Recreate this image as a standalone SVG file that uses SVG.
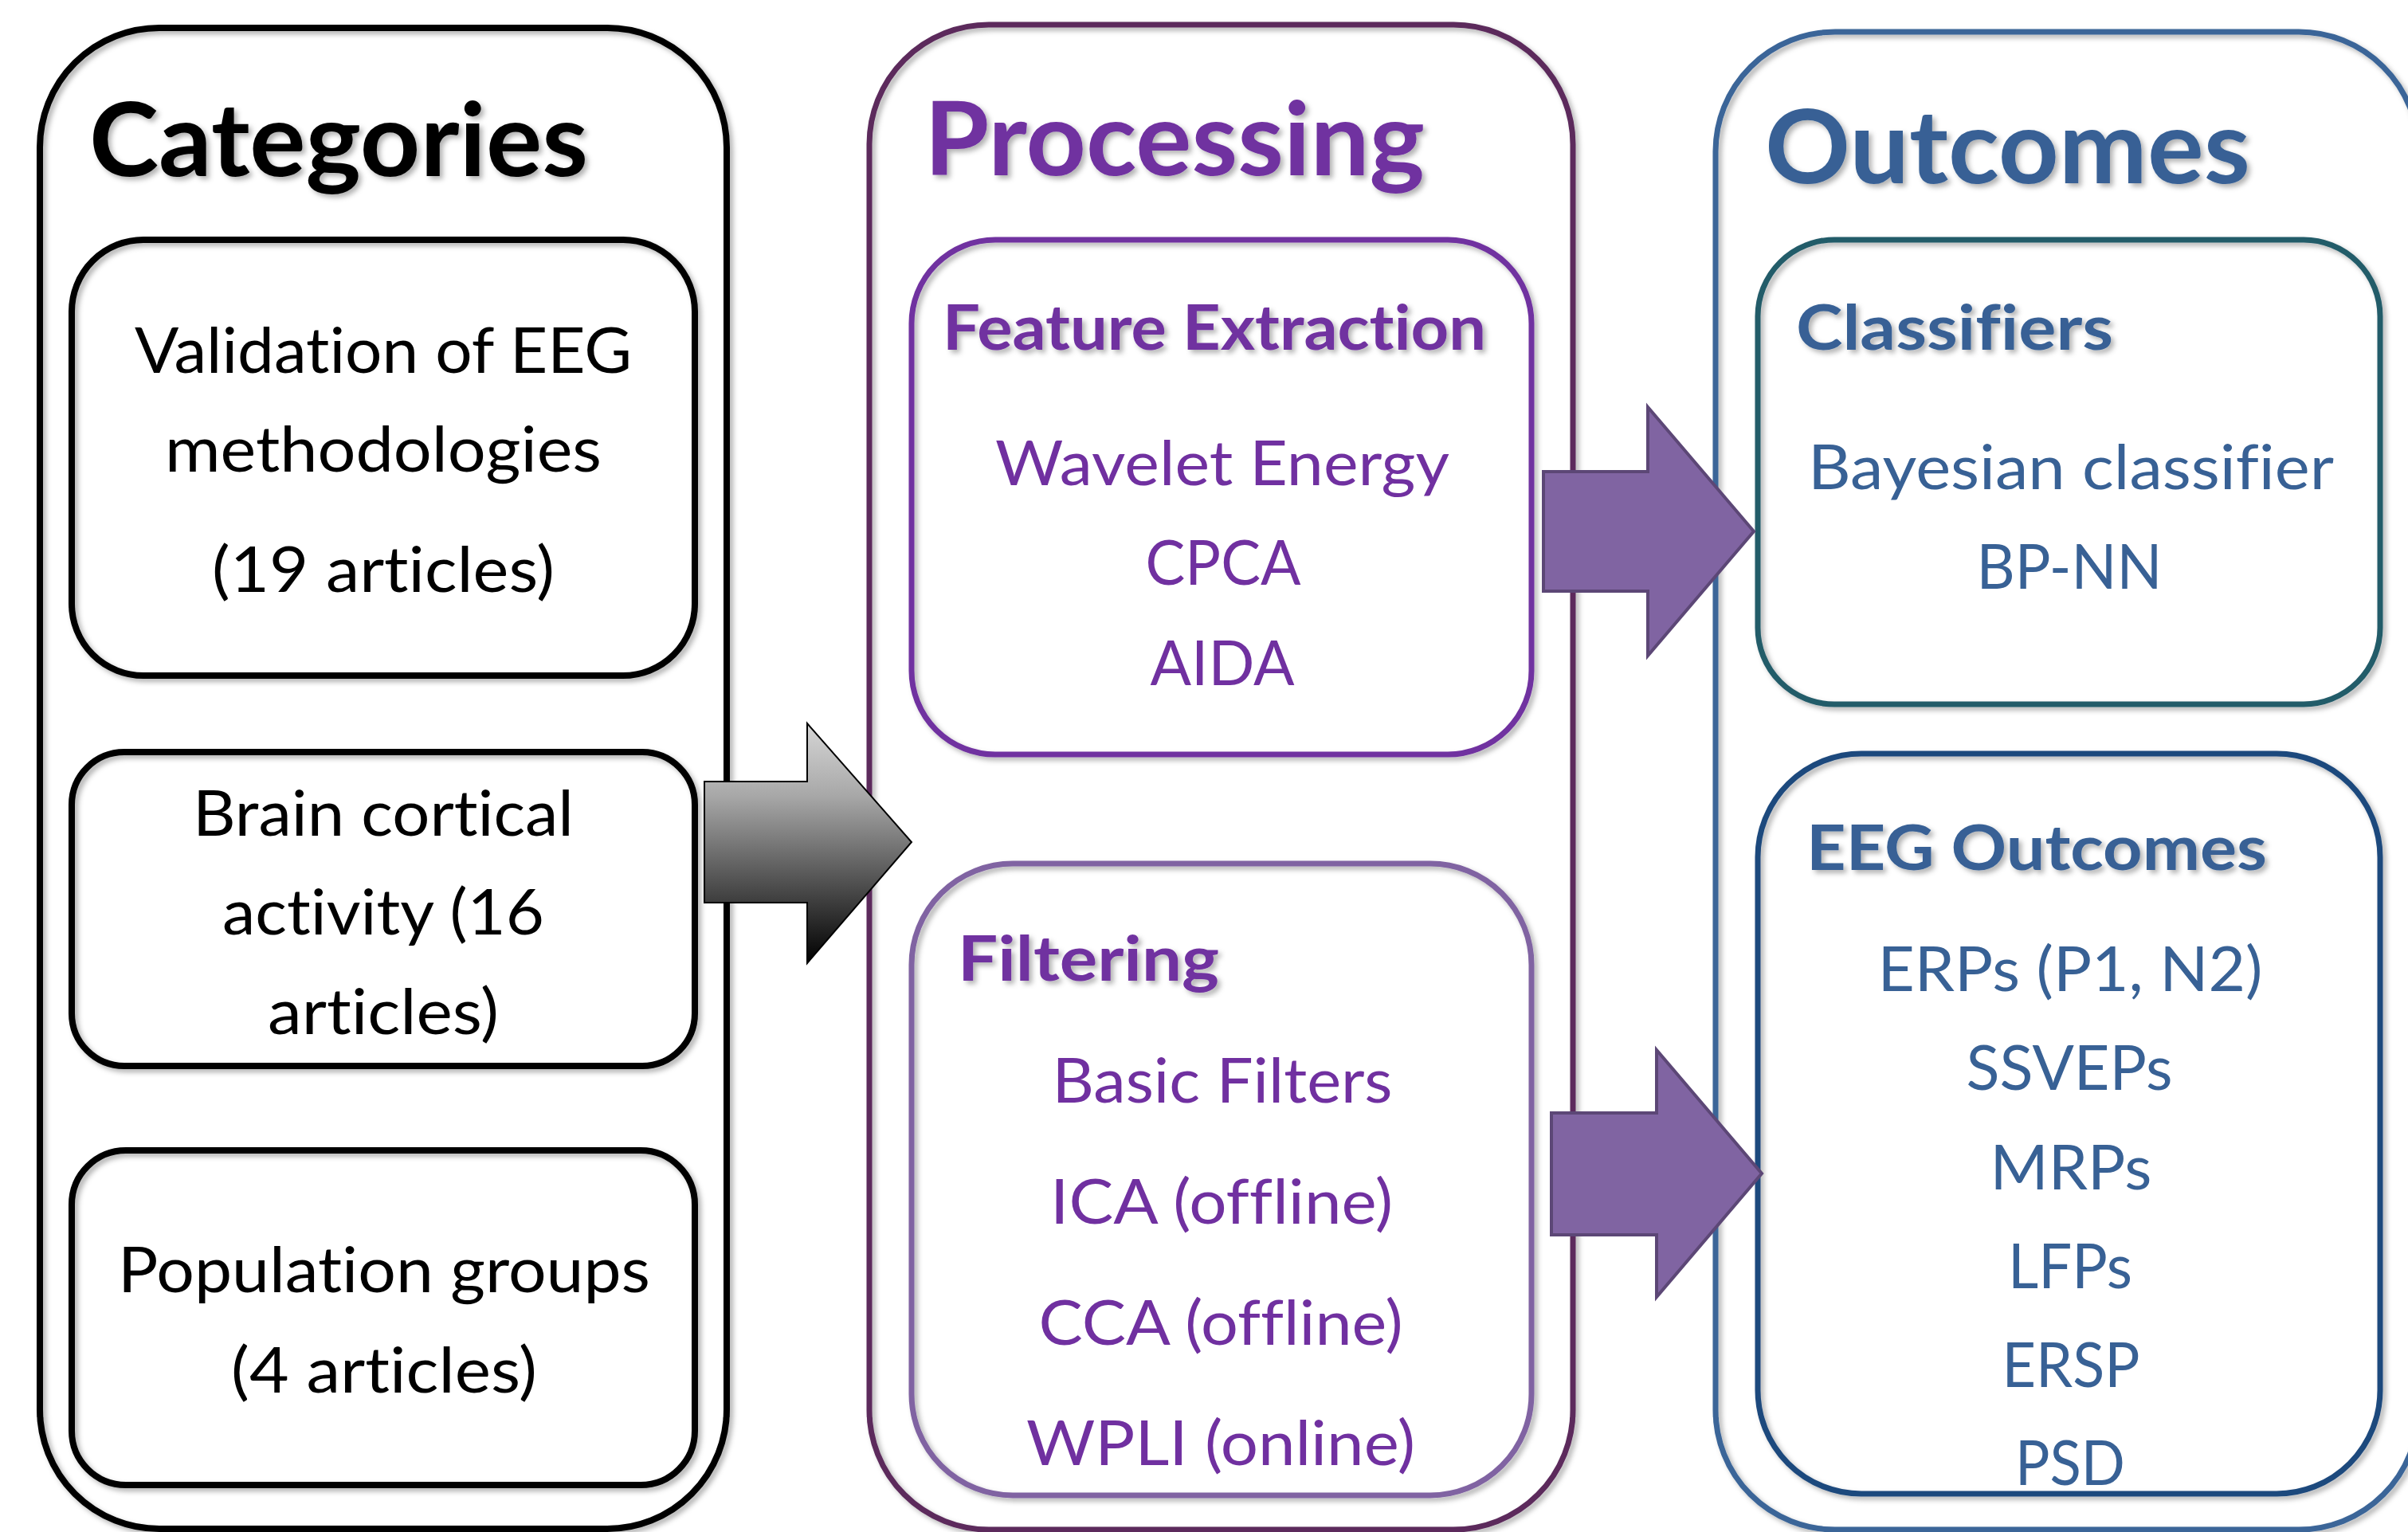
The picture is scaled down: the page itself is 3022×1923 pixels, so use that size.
<svg xmlns="http://www.w3.org/2000/svg" width="3022" height="1923" viewBox="0 0 3022 1923">
<defs>
<filter id="sh" x="-5%" y="-5%" width="110%" height="110%">
<feDropShadow dx="4" dy="4" stdDeviation="3" flood-color="#000" flood-opacity="0.3"/>
</filter>
<linearGradient id="gray" x1="0" y1="0" x2="0" y2="1">
<stop offset="0" stop-color="#d6d6d6"/>
<stop offset="0.3" stop-color="#a8a8a8"/>
<stop offset="1" stop-color="#000000"/>
</linearGradient>
<style>
text{font-family:Lato,"Open Sans","Liberation Sans",sans-serif;font-variant-ligatures:none;font-feature-settings:"liga" 0}
.h{font-weight:bold;font-size:128px;filter:url(#sh)}
.sh{font-weight:bold;font-size:79px;filter:url(#sh)}
.b{font-size:80px;fill:#000;text-anchor:middle}
.l{font-size:77px;text-anchor:middle}
.box{fill:none;filter:url(#sh)}
.pur{fill:#7030a0}
.blu{fill:#386195}
.parr{fill:#8064a2;stroke:#5c4776;stroke-width:4}
</style>
</defs>
<rect width="3022" height="1923" fill="#fff"/>

<g id="categories">
<rect class="box" x="50" y="35" width="862" height="1884" rx="150" stroke="#000" stroke-width="8"/>
<text class="h" x="112" y="221" textLength="626" lengthAdjust="spacingAndGlyphs" fill="#000">Categories</text>
</g>
<g id="validation">
<rect class="box" x="90" y="301" width="782" height="547" rx="90" stroke="#000" stroke-width="8"/>
<text class="b" x="481" y="468" textLength="624" lengthAdjust="spacingAndGlyphs">Validation of EEG</text>
<text class="b" x="481" y="592" textLength="548" lengthAdjust="spacingAndGlyphs">methodologies</text>
<text class="b" x="481" y="743" textLength="430" lengthAdjust="spacingAndGlyphs">(19 articles)</text>
</g>
<g id="brain">
<rect class="box" x="90" y="944" width="782" height="394" rx="66" stroke="#000" stroke-width="8"/>
<text class="b" x="481" y="1049" textLength="478" lengthAdjust="spacingAndGlyphs">Brain cortical</text>
<text class="b" x="481" y="1173" textLength="404" lengthAdjust="spacingAndGlyphs">activity (16</text>
<text class="b" x="481" y="1298" textLength="290" lengthAdjust="spacingAndGlyphs">articles)</text>
</g>
<g id="population">
<rect class="box" x="90" y="1444" width="782" height="420" rx="68" stroke="#000" stroke-width="8"/>
<text class="b" x="482" y="1622" textLength="668" lengthAdjust="spacingAndGlyphs">Population groups</text>
<text class="b" x="482" y="1748" textLength="384" lengthAdjust="spacingAndGlyphs">(4 articles)</text>
</g>

<g id="processing">
<rect class="box" x="1091" y="31" width="883" height="1889" rx="150" stroke="#5b2b5b" stroke-width="7"/>
<text class="h pur" x="1160" y="220" textLength="628" lengthAdjust="spacingAndGlyphs">Processing</text>
</g>
<g id="feature-extraction">
<rect class="box" x="1144" y="301" width="778" height="646" rx="105" stroke="#7030a0" stroke-width="7"/>
<text class="sh pur" x="1183" y="439" textLength="682" lengthAdjust="spacingAndGlyphs">Feature Extraction</text>
<text class="l pur" x="1534" y="609" textLength="570" lengthAdjust="spacingAndGlyphs">Wavelet Energy</text>
<text class="l pur" x="1535" y="734" textLength="195" lengthAdjust="spacingAndGlyphs">CPCA</text>
<text class="l pur" x="1534" y="860" textLength="181" lengthAdjust="spacingAndGlyphs">AIDA</text>
</g>
<g id="filtering">
<rect class="box" x="1144" y="1084" width="778" height="793" rx="127" stroke="#8064a2" stroke-width="7"/>
<text class="sh pur" x="1202" y="1231" textLength="328" lengthAdjust="spacingAndGlyphs">Filtering</text>
<text class="l pur" x="1534" y="1384" textLength="427" lengthAdjust="spacingAndGlyphs">Basic Filters</text>
<text class="l pur" x="1533" y="1536" textLength="430" lengthAdjust="spacingAndGlyphs">ICA (offline)</text>
<text class="l pur" x="1532" y="1688" textLength="457" lengthAdjust="spacingAndGlyphs">CCA (offline)</text>
<text class="l pur" x="1532" y="1839" textLength="488" lengthAdjust="spacingAndGlyphs">WPLI (online)</text>
</g>

<g id="outcomes">
<rect class="box" x="2153" y="40" width="882" height="1880" rx="150" stroke="#3b6598" stroke-width="7"/>
<text class="h blu" x="2215" y="230" textLength="609" lengthAdjust="spacingAndGlyphs">Outcomes</text>
</g>
<g id="classifiers">
<rect class="box" x="2206" y="301" width="781" height="583" rx="96" stroke="#245b69" stroke-width="7"/>
<text class="sh blu" x="2254" y="439" textLength="398" lengthAdjust="spacingAndGlyphs">Classifiers</text>
<text class="l blu" x="2599" y="614" textLength="660" lengthAdjust="spacingAndGlyphs">Bayesian classifier</text>
<text class="l blu" x="2597" y="739" textLength="233" lengthAdjust="spacingAndGlyphs">BP-NN</text>
</g>
<g id="eeg-outcomes">
<rect class="box" x="2206" y="946" width="781" height="929" rx="130" stroke="#1f497d" stroke-width="7"/>
<text class="sh blu" x="2267" y="1092" textLength="578" lengthAdjust="spacingAndGlyphs">EEG Outcomes</text>
<text class="l blu" x="2598" y="1244" textLength="483" lengthAdjust="spacingAndGlyphs">ERPs (P1, N2)</text>
<text class="l blu" x="2597" y="1368" textLength="259" lengthAdjust="spacingAndGlyphs">SSVEPs</text>
<text class="l blu" x="2599" y="1493" textLength="203" lengthAdjust="spacingAndGlyphs">MRPs</text>
<text class="l blu" x="2598" y="1617" textLength="156" lengthAdjust="spacingAndGlyphs">LFPs</text>
<text class="l blu" x="2599" y="1741" textLength="173" lengthAdjust="spacingAndGlyphs">ERSP</text>
<text class="l blu" x="2598" y="1864" textLength="138" lengthAdjust="spacingAndGlyphs">PSD</text>
</g>

<g id="connectors">
<polygon points="884,981 1013,981 1013,908 1144,1057 1013,1209 1013,1133 884,1133" fill="url(#gray)" stroke="#000" stroke-width="2"/>
<polygon class="parr" points="1937,592 2068,592 2068,511 2201,667 2068,823 2068,742 1937,742"/>
<polygon class="parr" points="1947,1397 2079,1397 2079,1318 2211,1473 2079,1628 2079,1550 1947,1550"/>
</g>
</svg>
